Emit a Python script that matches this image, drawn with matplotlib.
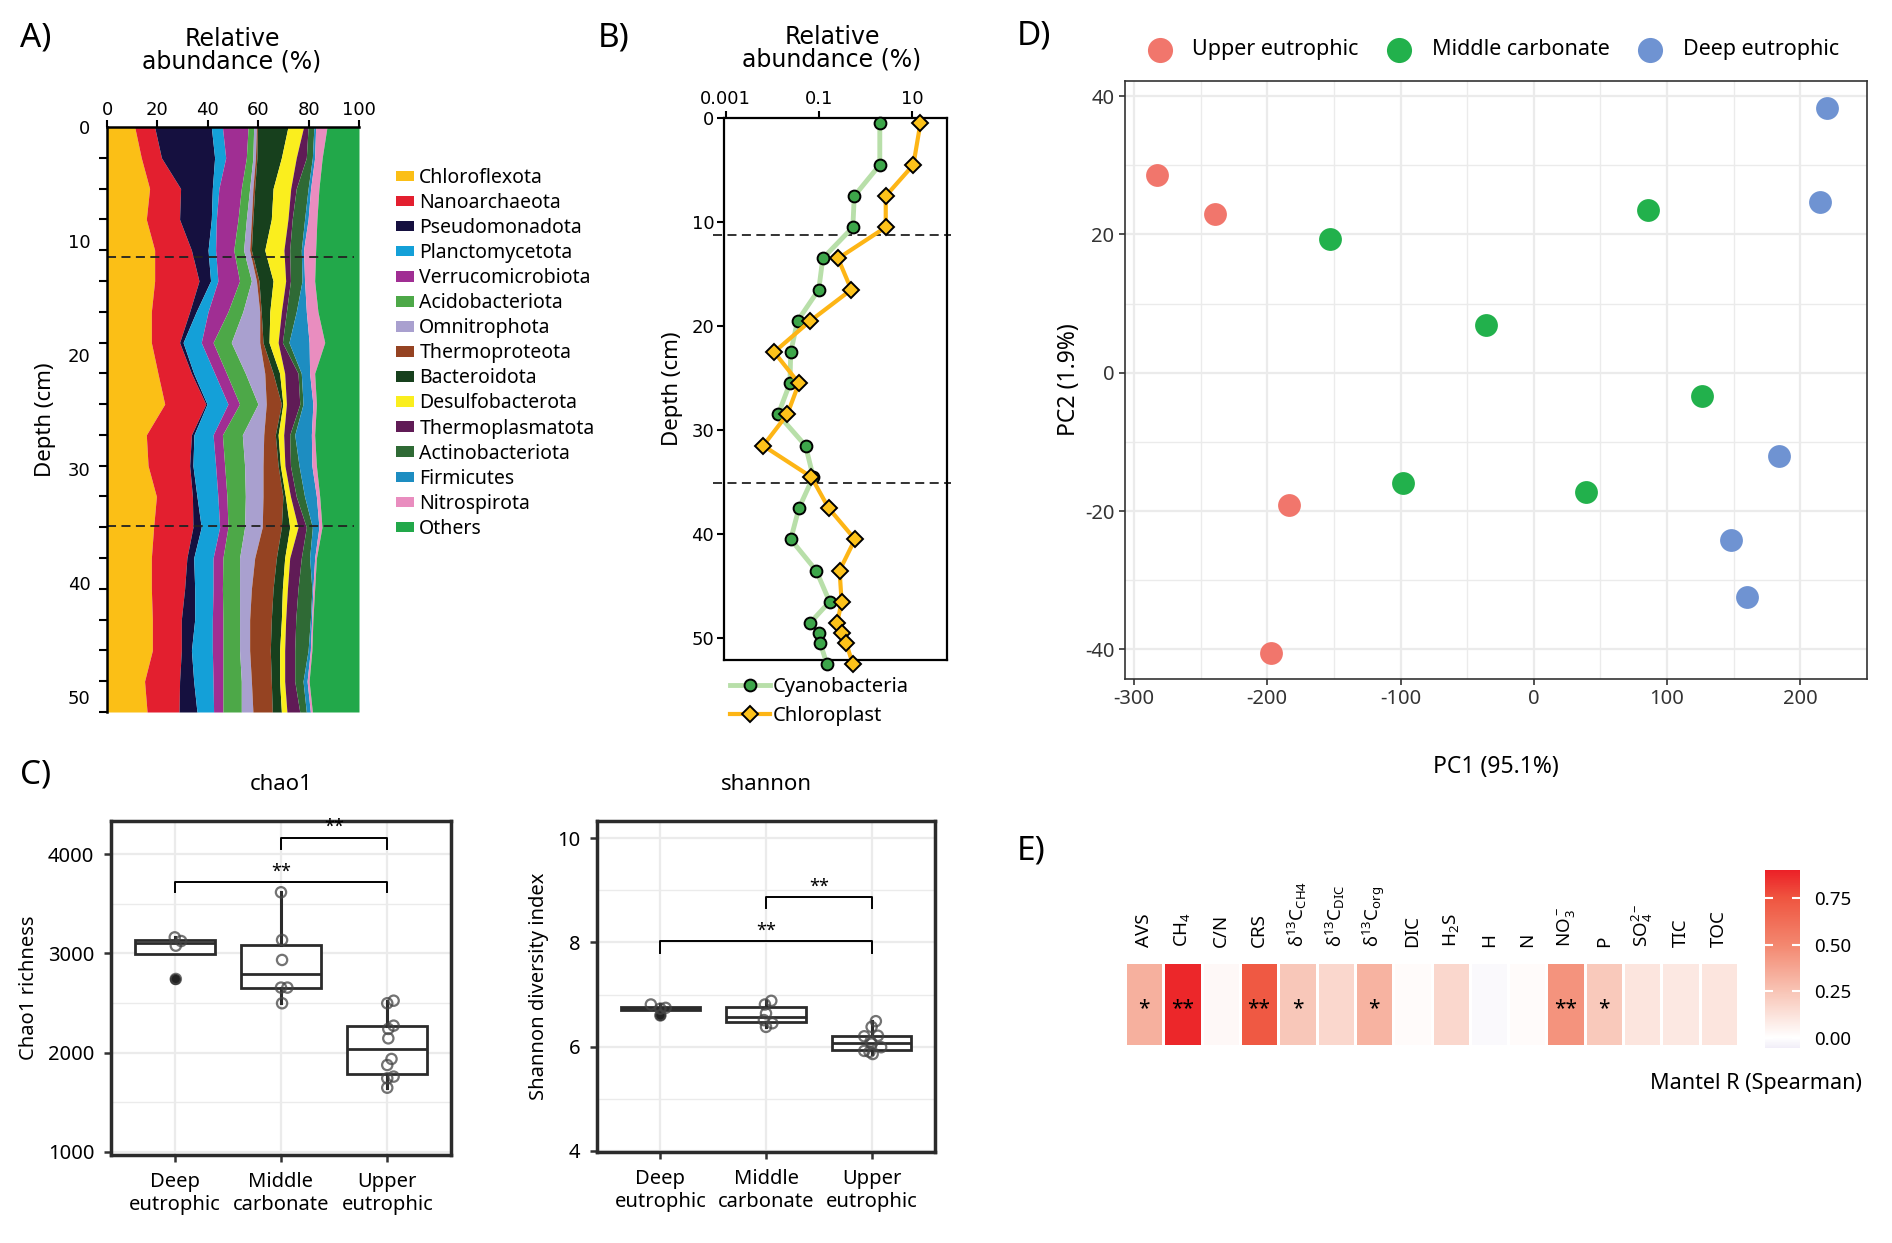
import numpy as np
import matplotlib
matplotlib.use("Agg")
import matplotlib.pyplot as plt
from matplotlib.patches import Patch
from matplotlib.colors import LinearSegmentedColormap, Normalize
from matplotlib.ticker import NullLocator

plt.rcParams['font.family'] = ['Noto Sans', 'DejaVu Sans']
plt.rcParams['mathtext.fontset'] = 'custom'
plt.rcParams['mathtext.rm'] = 'Noto Sans'
plt.rcParams['mathtext.it'] = 'Noto Sans:italic'
plt.rcParams['axes.unicode_minus'] = False

W, H = 1892, 1243

# ---------------- A) phylum composition with depth ----------------
depth_a = [0, 2.7, 5.4, 8.1, 10.8, 13.5, 16.2, 18.9, 21.6, 24.3,
           27.0, 29.7, 32.4, 35.1, 37.8, 40.5, 43.2, 45.9, 48.6, 51.3]
zone_breaks = [11.4, 35.0]

taxa = ["Chloroflexota", "Nanoarchaeota", "Pseudomonadota", "Planctomycetota",
        "Verrucomicrobiota", "Acidobacteriota", "Omnitrophota", "Thermoproteota",
        "Bacteroidota", "Desulfobacterota", "Thermoplasmatota", "Actinobacteriota",
        "Firmicutes", "Nitrospirota", "Others"]
taxa_colors = ["#FBBF16", "#E31F2F", "#15103F", "#14A0D8", "#A02E93", "#4DA848",
               "#A9A0CF", "#954322", "#17401D", "#FAEE1E", "#601B56", "#2F6A35",
               "#1D8DC1", "#E98DBF", "#22A84A"]

chloroflexota = [11.0, 13.6, 16.9, 15.6, 18.9, 18.9, 17.6, 17.6, 20.2, 22.9,
                 15.6, 16.3, 19.6, 18.5, 17.6, 17.6, 18.0, 18.0, 14.9, 15.9]
nanoarchaeota = [7.9, 8.0, 12.3, 13.2, 14.6, 17.6, 15.2, 11.2, 13.3, 16.3,
                 17.9, 16.5, 14.3, 15.6, 14.1, 13.2, 11.5, 11.5, 13.9, 12.7]
pseudomonadota = [22.5, 21.1, 12.6, 12.6, 6.6, 4.6, 2.6, 1.4, 0.9, 0.5,
                  1.0, 1.3, 1.8, 3.3, 2.7, 4.0, 5.3, 4.0, 5.6, 7.1]
planctomycetota = [4.4, 4.4, 2.6, 2.0, 3.0, 2.9, 4.7, 7.2, 8.3, 8.3,
                   7.6, 9.0, 8.3, 7.3, 7.7, 7.3, 7.0, 8.3, 7.7, 6.6]
verrucomicrobiota = [10.2, 8.2, 8.9, 8.6, 7.2, 8.6, 7.9, 4.7, 4.7, 4.6,
                     3.7, 3.6, 3.6, 3.3, 3.9, 3.7, 4.2, 4.2, 3.9, 3.7]
acidobacteriota = [2.2, 2.6, 3.3, 3.3, 3.9, 4.7, 5.9, 7.2, 7.5, 7.3,
                   7.9, 7.9, 7.3, 6.6, 6.6, 6.8, 6.6, 6.6, 7.3, 7.3]
omnitrophota = [1.1, 1.0, 1.3, 2.0, 2.4, 2.0, 6.7, 11.3, 7.7, 3.3,
                8.5, 7.3, 7.0, 7.0, 6.0, 4.7, 4.0, 4.0, 4.0, 4.6]
thermoproteota = [0.4, 0.6, 0.7, 0.6, 0.7, 1.0, 0.6, 1.3, 3.3, 6.0,
                  4.6, 6.0, 7.9, 7.6, 8.6, 8.6, 8.6, 8.2, 7.9, 7.7]
bacteroidota = [12.1, 9.7, 7.3, 7.3, 5.3, 5.6, 3.4, 2.4, 2.6, 0.6,
                1.1, 0.9, 1.0, 3.3, 3.3, 3.7, 4.0, 3.7, 3.3, 3.6]
desulfobacterota = [6.2, 5.9, 7.0, 6.6, 7.6, 5.0, 4.6, 3.6, 2.0, 1.4,
                    2.2, 1.8, 2.0, 3.3, 2.0, 2.0, 1.7, 2.0, 2.0, 2.2]
thermoplasmatota = [1.8, 4.0, 2.2, 1.7, 2.3, 1.9, 2.0, 1.7, 5.3, 5.3,
                    2.4, 2.2, 2.3, 3.3, 4.6, 4.2, 4.0, 4.0, 4.0, 5.1]
actinobacteriota = [2.3, 2.4, 4.7, 4.9, 4.6, 4.6, 3.9, 2.6, 1.3, 1.3,
                    2.0, 3.4, 3.3, 2.4, 3.3, 5.5, 5.8, 5.3, 3.3, 2.6]
firmicutes = [0.7, 0.9, 1.0, 1.4, 0.9, 1.0, 4.0, 8.0, 3.3, 3.9,
              6.6, 5.1, 4.7, 2.6, 2.0, 0.4, 0.5, 0.9, 1.6, 1.6]
nitrospirota = [4.5, 3.0, 3.3, 3.5, 4.8, 4.0, 4.6, 6.2, 2.0, 1.4,
                1.3, 1.8, 1.3, 1.2, 0.7, 0.7, 0.5, 0.6, 0.8, 0.8]
others = [12.7, 14.6, 15.9, 16.7, 17.2, 17.6, 16.3, 13.6, 17.6, 16.9,
          17.6, 16.9, 15.6, 14.7, 16.9, 17.6, 18.3, 18.7, 19.8, 18.5]

# ---------------- B) cyanobacteria / chloroplast ----------------
depth_b = [0.5, 4.5, 7.5, 10.5, 13.5, 16.5, 19.5, 22.5, 25.5, 28.5,
           31.5, 34.5, 37.5, 40.5, 43.5, 46.5, 48.5, 49.5, 50.5, 52.5]
cyanobacteria = [2.05, 2.05, 0.58, 0.54, 0.122, 0.10, 0.035, 0.025, 0.024, 0.0134,
                 0.052, 0.076, 0.0375, 0.025, 0.088, 0.171, 0.066, 0.10, 0.108, 0.15]
chloroplast = [15.3, 10.8, 2.75, 2.75, 0.26, 0.50, 0.066, 0.011, 0.0375, 0.021,
               0.0064, 0.069, 0.163, 0.60, 0.28, 0.31, 0.25, 0.31, 0.39, 0.54]
zone_breaks_b = [11.2, 35.1]

# ---------------- C) alpha diversity ----------------
groups = ["Deep\neutrophic", "Middle\ncarbonate", "Upper\neutrophic"]
chao_deep = [2742, 3078, 3125, 3162]
chao_middle = [2497, 2655, 2655, 2934, 3136, 3617]
chao_upper = [1645, 1740, 1757, 1874, 1935, 2143, 2238, 2271, 2497, 2523]
chao_jitter = [[0.01, 0.01, 0.06, 0.0],
               [0.01, 0.0, 0.06, 0.01, 0.01, 0.0],
               [0.0, 0.0, 0.06, 0.0, 0.04, 0.01, 0.01, 0.06, 0.0, 0.06]]
shannon_deep = [6.60, 6.73, 6.745, 6.81]
shannon_middle = [6.38, 6.45, 6.51, 6.64, 6.81, 6.88]
shannon_upper = [5.86, 5.90, 5.92, 5.99, 6.06, 6.10, 6.20, 6.21, 6.38, 6.49]
shannon_jitter = [[0.0, 0.0, 0.05, -0.09],
                  [0.0, 0.06, -0.02, 0.0, -0.01, 0.05],
                  [0.01, -0.02, -0.07, 0.09, 0.0, -0.01, -0.07, 0.06, 0.0, 0.04]]
# (group a, group b, bracket y, leg bottom)
chao_sig = [(2, 3, 4168, 4050), (1, 3, 3717, 3617)]
shannon_sig = [(2, 3, 8.87, 8.66), (1, 3, 8.02, 7.80)]

# ---------------- D) PCA ----------------
upper_pc1 = [-283, -239, -184, -197]
upper_pc2 = [28.6, 23.0, -19.1, -40.5]
middle_pc1 = [-153, -36, 86, 126, -98, 39]
middle_pc2 = [19.4, 6.9, 23.5, -3.3, -15.9, -17.2]
deep_pc1 = [220, 215, 184, 148, 160]
deep_pc2 = [38.3, 24.7, -12.0, -24.2, -32.4]

# ---------------- E) Mantel test ----------------
mantel_vars = ["AVS", "CH$_4$", "C/N", "CRS", r"δ$^{13}$C$_{\mathrm{CH4}}$",
               r"δ$^{13}$C$_{\mathrm{DIC}}$", r"δ$^{13}$C$_{\mathrm{org}}$", "DIC",
               "H$_2$S", "H", "N", "NO$_3^-$", "P", "SO$_4^{2-}$", "TIC", "TOC"]
mantel_r = [0.33, 0.88, 0.03, 0.73, 0.24, 0.17, 0.32, 0.02,
            0.17, -0.02, 0.02, 0.45, 0.23, 0.11, 0.10, 0.11]
mantel_sig = ["*", "**", "", "**", "*", "", "*", "",
              "", "", "", "**", "*", "", "", ""]


fig = plt.figure(figsize=(W / 100, H / 100), dpi=100)


def px_axes(l, t, r, b):
    return fig.add_axes([l / W, 1 - b / H, (r - l) / W, (b - t) / H])


def fig_text(x, y, s, **kw):
    fig.text(x / W, 1 - y / H, s, **kw)


VERD = 'DejaVu Sans'

# ---- Panel A ----
ax = px_axes(107, 127, 359, 712)
layers = [chloroflexota, nanoarchaeota, pseudomonadota, planctomycetota,
          verrucomicrobiota, acidobacteriota, omnitrophota, thermoproteota,
          bacteroidota, desulfobacterota, thermoplasmatota, actinobacteriota,
          firmicutes, nitrospirota, others]
left = np.zeros(len(depth_a))
for vals, col in zip(layers, taxa_colors):
    right = left + np.array(vals)
    ax.fill_betweenx(depth_a, left, right, color=col, lw=0)
    left = right
for d in zone_breaks:
    ax.plot([0, 98], [d, d], color='#222222', lw=1.3, dashes=(5, 3))
ax.set_xlim(0, 100)
ax.set_ylim(depth_a[-1], 0)
ax.xaxis.tick_top()
ax.set_xticks(range(0, 101, 20))
ax.set_yticks(range(0, 51, 10))
ax.set_yticks(depth_a, minor=True)
ax.tick_params(axis='y', which='major', length=0, pad=12, labelsize=13)
ax.tick_params(axis='y', which='minor', length=6, width=1.5)
ax.tick_params(axis='x', length=5, width=1.5, labelsize=13, pad=1)
for lbl in ax.get_xticklabels() + ax.get_yticklabels():
    lbl.set_family(VERD)
for s in ['right', 'bottom']:
    ax.spines[s].set_visible(False)
for s in ['left', 'top']:
    ax.spines[s].set_linewidth(1.8)
ax.set_ylabel("Depth (cm)", fontsize=16, labelpad=8)
fig_text(232, 50, "Relative\nabundance (%)", ha='center', va='center',
         fontsize=17, family=VERD, linespacing=0.9)
fig_text(20, 38, "A)", ha='left', va='center', fontsize=24)

handles = [Patch(facecolor=c, edgecolor='none') for c in taxa_colors]
fig.legend(handles, taxa, loc='upper left', bbox_to_anchor=(396 / W, 1 - 168 / H),
           frameon=False, fontsize=14, handlelength=0.9, handleheight=0.45,
           handletextpad=0.3, labelspacing=0.26, borderaxespad=0, borderpad=0)

# ---- Panel B ----
axb = px_axes(724, 118, 947, 660)
axb.set_xscale('log')
l1, = axb.plot(cyanobacteria, depth_b, '-', color='#B8DFA9', lw=3.5, marker='o', ms=8.5,
               mfc='#3DA64A', mec='black', mew=1.4, clip_on=False, zorder=3)
l2, = axb.plot(chloroplast, depth_b, '-', color='#FDB515', lw=3, marker='D', ms=8,
               mfc='#FDC21A', mec='black', mew=1.4, clip_on=False, zorder=4)
for d in zone_breaks_b:
    axb.axhline(d, xmin=-0.05, xmax=1.02, color='#222222', lw=1.3, dashes=(5, 3),
                clip_on=False)
axb.set_xlim(0.00092, 57)
axb.set_ylim(52.1, 0)
axb.xaxis.tick_top()
axb.set_xticks([0.001, 0.1, 10])
axb.set_xticklabels(["0.001", "0.1", "10"])
axb.xaxis.set_minor_locator(NullLocator())
axb.set_yticks(range(0, 51, 10))
axb.tick_params(length=5, width=1.5, labelsize=13, pad=2)
for lbl in axb.get_xticklabels() + axb.get_yticklabels():
    lbl.set_family(VERD)
for s in axb.spines.values():
    s.set_linewidth(1.6)
axb.set_ylabel("Depth (cm)", fontsize=16, labelpad=6)
fig_text(832, 48, "Relative\nabundance (%)", ha='center', va='center',
         fontsize=17, family=VERD, linespacing=0.9)
fig_text(598, 38, "B)", ha='left', va='center', fontsize=24)
fig.legend([l1, l2], ["Cyanobacteria", "Chloroplast"], loc='upper left',
           bbox_to_anchor=(730 / W, 1 - 677 / H), frameon=False, fontsize=14.5,
           handlelength=2.0, handletextpad=0.1, labelspacing=0.45,
           borderaxespad=0, borderpad=0)


# ---- Panel C ----
def box_panel(rect, data, jitter, ylim, yticks, yminor, ylabel, title, sig):
    axc = px_axes(*rect)
    axc.set_axisbelow(True)
    axc.boxplot(data, positions=[1, 2, 3], widths=0.75, whis=1.5,
                patch_artist=True, showcaps=False,
                boxprops=dict(facecolor='white', edgecolor='#2b2b2b', lw=2),
                medianprops=dict(color='#2b2b2b', lw=2),
                whiskerprops=dict(color='#2b2b2b', lw=2.2),
                flierprops=dict(marker='o', mfc='#222222', mec='#222222', ms=7))
    for i, (vals, jit) in enumerate(zip(data, jitter)):
        axc.scatter(np.full(len(vals), i + 1) + np.array(jit), vals, s=55,
                    facecolors='none', edgecolors='#444444', linewidths=1.6,
                    alpha=0.75, zorder=4)
    for a, b, ybar, yleg in sig:
        axc.plot([a, a, b, b], [yleg, ybar, ybar, yleg], color='black', lw=1.4)
        axc.text((a + b) / 2, ybar + (ylim[1] - ylim[0]) * 0.005, "**",
                 ha='center', va='bottom', fontsize=13)
    axc.set_xlim(0.4, 3.6)
    axc.set_ylim(*ylim)
    axc.set_xticks([1, 2, 3])
    axc.set_xticklabels(groups, fontsize=15, linespacing=1.2)
    axc.set_yticks(yticks)
    axc.set_yticks(yminor, minor=True)
    axc.grid(True, which='major', color='#EBEBEB', lw=1.6)
    axc.grid(True, which='minor', axis='y', color='#EBEBEB', lw=1.0)
    axc.tick_params(which='major', length=5, width=1.8, color='#333333',
                    labelsize=14.5, pad=7)
    axc.tick_params(which='minor', length=0)
    for s in axc.spines.values():
        s.set_linewidth(2.5)
        s.set_color('#2b2b2b')
    axc.set_ylabel(ylabel, fontsize=14.5, labelpad=6)
    axc.set_title(title, fontsize=16, pad=22)
    return axc


box_panel((111, 821, 451, 1155), [chao_deep, chao_middle, chao_upper], chao_jitter,
          (966, 4336), [1000, 2000, 3000, 4000], [1500, 2500, 3500],
          "Chao1 richness", "chao1", chao_sig)
box_panel((597, 821, 935, 1152), [shannon_deep, shannon_middle, shannon_upper],
          shannon_jitter, (3.98, 10.33), [4, 6, 8, 10], [5, 7, 9],
          "Shannon diversity index", "shannon", shannon_sig)
fig_text(20, 775, "C)", ha='left', va='center', fontsize=24)

# ---- Panel D ----
axd = px_axes(1125, 81, 1867, 679)
axd.set_axisbelow(True)
s1 = axd.scatter(upper_pc1, upper_pc2, s=270, color='#F1766C', lw=0, zorder=3)
s2 = axd.scatter(middle_pc1, middle_pc2, s=270, color='#22B14C', lw=0, zorder=3)
s3 = axd.scatter(deep_pc1, deep_pc2, s=270, color='#6F93D2', lw=0, zorder=3)
axd.set_xlim(-306.7, 245)
axd.set_ylim(-44.3, 42.2)
axd.set_xticks(range(-300, 201, 100))
axd.set_xticks(range(-250, 251, 100), minor=True)
axd.set_yticks(range(-40, 41, 20))
axd.set_yticks(range(-30, 31, 20), minor=True)
axd.grid(True, which='major', color='#EBEBEB', lw=1.6)
axd.grid(True, which='minor', color='#EBEBEB', lw=1.0)
axd.tick_params(which='major', length=4, width=1.2, color='#333333', labelsize=14.5,
                labelcolor='#333333')
axd.tick_params(which='minor', length=0)
for s in axd.spines.values():
    s.set_linewidth(1.2)
    s.set_color('#333333')
axd.set_xlabel("PC1 (95.1%)", fontsize=16.5, labelpad=33)
axd.set_ylabel("PC2 (1.9%)", fontsize=16.5, labelpad=3)
axd.legend([s1, s2, s3], ["Upper eutrophic", "Middle carbonate", "Deep eutrophic"],
           loc='lower center', bbox_to_anchor=(0.49, 1.02), ncol=3, frameon=False,
           fontsize=15.5, handletextpad=0.5, columnspacing=0.9, borderaxespad=0,
           markerscale=1.1)
fig_text(1017, 36, "D)", ha='left', va='center', fontsize=24)

# ---- Panel E ----
axe = px_axes(1125, 962, 1738, 1046)
cmap = LinearSegmentedColormap.from_list(
    "mantel",
    [(0.0, '#F1EEF8'), (0.054 / 0.954, '#FFFFFF'), (0.304 / 0.954, '#F8C4B5'),
     (0.554 / 0.954, '#F3876F'), (0.804 / 0.954, '#EF5540'), (1.0, '#EC2027')])
norm = Normalize(vmin=-0.054, vmax=0.90)
n = len(mantel_r)
mesh = axe.pcolormesh(np.arange(n + 1), [0, 1], np.array([mantel_r]), cmap=cmap,
                      norm=norm, edgecolors='white', linewidth=0.8)
for i, (lab, sg) in enumerate(zip(mantel_vars, mantel_sig)):
    if sg:
        axe.text(i + 0.5, 0.45, sg, ha='center', va='center', fontsize=15)
    axe.text(i + 0.5, 1.18, lab, rotation=90, ha='center', va='bottom', fontsize=13.5)
axe.set_xlim(0, n)
axe.set_ylim(0, 1)
axe.axis('off')

cax = px_axes(1765, 870, 1800, 1048)
cb = fig.colorbar(mesh, cax=cax, ticks=[0, 0.25, 0.5, 0.75])
cb.ax.set_yticklabels(["0.00", "0.25", "0.50", "0.75"])
cb.outline.set_visible(False)
cax.tick_params(left=True, right=True, direction='in', color='white', length=6,
                width=1.5, labelsize=13.5, pad=10)
fig_text(1862, 1083, "Mantel R (Spearman)", ha='right', va='center', fontsize=15.5)
fig_text(1017, 851, "E)", ha='left', va='center', fontsize=24)

fig.savefig("out.png", dpi=100)
